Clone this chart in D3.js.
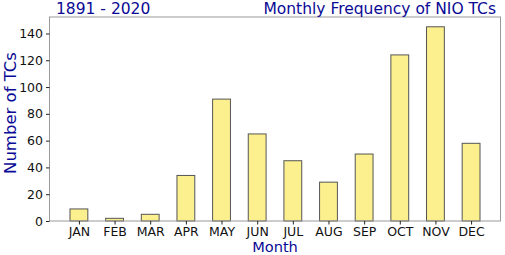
<!DOCTYPE html>
<meta charset="utf-8">
<style>
body { margin: 0; background: #fff; }
text { font-family: "DejaVu Sans", sans-serif; }
.tick text { font-size: 12.5px; fill: #111; }
.tick line { stroke: #222; }
</style>
<svg width="505" height="255"></svg>
<script src="https://d3js.org/d3.v7.min.js"></script>
<script>

// data
var months = ["JAN","FEB","MAR","APR","MAY","JUN","JUL","AUG","SEP","OCT","NOV","DEC"];
var counts = [9, 2, 5, 34, 91, 65, 45, 29, 50, 124, 145, 58];
var yTicks = [0, 20, 40, 60, 80, 100, 120, 140];

var padL = 49.5, padR = 500.5, padT = 17, padB = 221;
var navy = "#0a0a96";

var svg = d3.select("svg");

var x = d3.scaleLinear().domain([-0.825, 11.825]).range([padL, padR]);
var y = d3.scaleLinear().domain([0, 152.3]).range([padB, padT]);
var barW = x(0.5) - x(0);

// bars
svg.append("g").selectAll("rect")
  .data(counts)
  .enter().append("rect")
    .attr("x", function(d, i) { return x(i) - barW / 2; })
    .attr("y", function(d) { return y(d); })
    .attr("width", barW)
    .attr("height", function(d) { return y(0) - y(d); })
    .attr("fill", "#fcef8e")
    .attr("stroke", "#555")
    .attr("stroke-width", 1);

// frame
svg.append("rect")
  .attr("x", padL).attr("y", padT)
  .attr("width", padR - padL).attr("height", padB - padT)
  .attr("fill", "none").attr("stroke", "#999").attr("stroke-width", 1);

// axes
var yAxis = svg.append("g")
  .attr("transform", "translate(" + padL + ",0)")
  .call(d3.axisLeft(y).tickValues(yTicks).tickSize(3.5).tickPadding(3));
yAxis.select(".domain").remove();

var xAxis = svg.append("g")
  .attr("transform", "translate(0," + padB + ")")
  .call(d3.axisBottom(x).tickValues(d3.range(months.length))
    .tickFormat(function(i) { return months[i]; }).tickSize(3.5).tickPadding(3));
xAxis.select(".domain").remove();

// labels
svg.append("text")
  .attr("x", (padL + padR) / 2).attr("y", 252)
  .attr("text-anchor", "middle")
  .attr("font-size", 14.6).attr("fill", navy)
  .text("Month");

svg.append("text")
  .attr("transform", "translate(16,113) rotate(-90)")
  .attr("text-anchor", "middle")
  .attr("font-size", 16.5).attr("fill", navy)
  .text("Number of TCs");

svg.append("text")
  .attr("x", 56).attr("y", 14)
  .attr("font-size", 15.5).attr("fill", navy)
  .text("1891 - 2020");

svg.append("text")
  .attr("x", 496).attr("y", 14)
  .attr("text-anchor", "end")
  .attr("font-size", 15.5).attr("fill", navy)
  .text("Monthly Frequency of NIO TCs");

</script>
